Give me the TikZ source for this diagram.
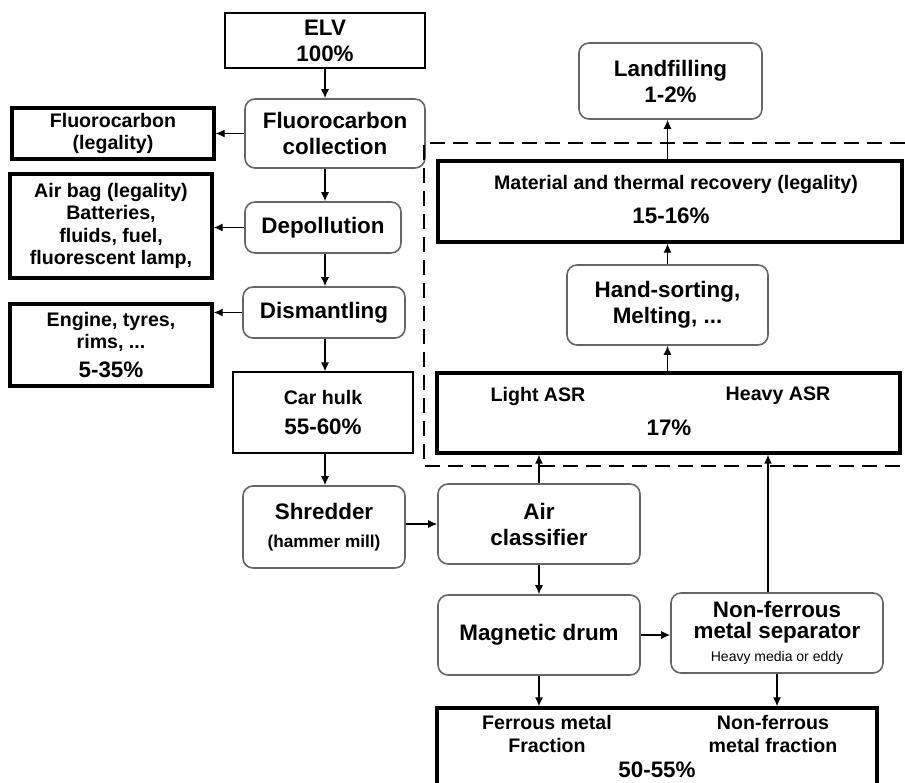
\documentclass[tikz,border=0pt]{standalone}
\usepackage{fontspec}
\setmainfont{Liberation Sans}
\usetikzlibrary{arrows.meta}
\newcommand\lgfont{\fontsize{11.2}{13}\selectfont}
\newcommand\mdfont{\fontsize{9.8}{11.2}\selectfont}
\begin{document}
\begin{tikzpicture}[x=0.5pt,y=-0.5pt]
        \tikzstyle{thinbox}=[draw,line width=0.6pt,inner sep=0pt,align=center]
        \tikzstyle{heavybox}=[draw,line width=1.7pt,inner sep=0pt,align=center]
        \tikzstyle{procbox}=[draw=black!60,line width=0.8pt,rounded corners=5pt,inner sep=0pt,align=center]
        \tikzstyle{lg}=[font=\bfseries\lgfont]
        \tikzstyle{md}=[font=\bfseries\mdfont]
        \tikzstyle{txt}=[inner sep=0pt,align=center]
        \tikzstyle{flow}=[-{Latex[length=4.5pt,width=4pt]},line width=0.6pt]
        \useasboundingbox (0,0) rectangle (905,782);

        \node[thinbox,lg,minimum width=100pt,minimum height=27.5pt] (elv) at (325,40.5) {ELV\\100\%};
        \node[procbox,lg,minimum width=90pt,minimum height=34.5pt] (fcoll) at (335,133.5) {Fluorocarbon\\collection};
        \node[heavybox,md,minimum width=101pt,minimum height=25.5pt] (flegal) at (113,133.5) {Fluorocarbon\\(legality)};
        \node[procbox,lg,minimum width=78pt,minimum height=25.5pt] (depol) at (323,227.5) {Depollution};
        \node[heavybox,md,minimum width=101pt,minimum height=52pt] (airbag) at (111,226) {Air bag (legality)\\Batteries,\\fluids, fuel,\\fluorescent lamp,};
        \node[procbox,lg,minimum width=81pt,minimum height=25.5pt] (dismant) at (324,312.5) {Dismantling};
        \node[heavybox,md,minimum width=101pt,minimum height=41pt] (engine) at (111,345) {Engine, tyres,\\rims, ...\\[3pt]{\lgfont 5-35\%}};
        \node[thinbox,md,minimum width=90pt,minimum height=40.5pt] (hulk) at (323,412.5) {Car hulk\\[4pt]{\lgfont 55-60\%}};
        \node[procbox,lg,minimum width=81pt,minimum height=41pt] (shred) at (324,527) {Shredder\\[1pt]{\fontsize{8.6}{10}\selectfont(hammer mill)}};

        \node[procbox,lg,minimum width=91.5pt,minimum height=38pt] (landfill) at (670.5,81) {Landfilling\\1-2\%};
        \node[heavybox,minimum width=232pt,minimum height=40.5pt] (material) at (670,201.5) {};
        \node[txt,md] (matname) at (676,184) {Material and thermal recovery (legality)};
        \node[txt,lg] (matpct) at (671,216) {15-16\%};
        \node[procbox,lg,minimum width=100.5pt,minimum height=40pt] (handsort) at (667.5,305) {Hand-sorting,\\Melting, ...};
        \node[heavybox,minimum width=231.5pt,minimum height=40pt] (asr) at (668.5,413) {};
        \node[txt,md] (light) at (538,396) {Light ASR};
        \node[txt,md] (heavy) at (778,396) {Heavy ASR};
        \node[txt,lg] (asrpct) at (669,428) {17\%};

        \node[procbox,lg,minimum width=101pt,minimum height=40pt] (aircl) at (539,524) {Air\\classifier};
        \node[procbox,lg,minimum width=101pt,minimum height=40pt] (magdrum) at (539,635) {\raisebox{-5pt}{Magnetic drum}};
        \node[procbox,lg,minimum width=106pt,minimum height=40pt] (nfsep) at (777,633) {Non-ferrous\\[-2.5pt]metal separator\\[-1.5pt]{\mdseries\fontsize{7}{8}\selectfont Heavy media or eddy}};
        \node[heavybox,minimum width=220pt,minimum height=75pt] (frac) at (657,783) {};
        \node[txt,md] (fefrac) at (547,734) {Ferrous metal\\Fraction};
        \node[txt,md] (nffrac) at (773,734) {Non-ferrous\\metal fraction};
        \node[txt,lg] (fracpct) at (657,770) {50-55\%};

        \draw[line width=1.4pt,dash pattern=on 7.5pt off 4pt] (905,143) -- (424,143) -- (424,466) -- (905,466);

        \draw[flow] (elv.south) -- (elv.south |- fcoll.north);
        \draw[flow] (fcoll.south -| elv.south) -- (depol.north -| elv.south);
        \draw[flow] (depol.south -| elv.south) -- (dismant.north -| elv.south);
        \draw[flow] (dismant.south -| elv.south) -- (hulk.north -| elv.south);
        \draw[flow] (hulk.south -| elv.south) -- (shred.north -| elv.south);
        \draw[flow] (fcoll.west) -- (fcoll.west -| flegal.east);
        \draw[flow] (depol.west) -- (depol.west -| airbag.east);
        \draw[flow] (dismant.west) -- (dismant.west -| engine.east);
        \draw[flow] (shred.east |- aircl.west) -- (aircl.west);
        \draw[flow] (aircl.north) -- (aircl.north |- asr.south);
        \draw[flow] (aircl.south) -- (magdrum.north);
        \draw[flow] (magdrum.east) -- (magdrum.east -| nfsep.west);
        \draw[flow] ([xshift=-4.5pt]nfsep.north) -- ([xshift=-4.5pt]nfsep.north |- asr.south);
        \draw[flow] (magdrum.south) -- (magdrum.south |- frac.north);
        \draw[flow] (nfsep.south) -- (nfsep.south |- frac.north);
        \draw[flow] (asr.north -| handsort.south) -- (handsort.south);
        \draw[flow] (handsort.north) -- (handsort.north |- material.south);
        \draw[flow] (material.north -| handsort.north) -- (landfill.south -| handsort.north);
\end{tikzpicture}
\end{document}
